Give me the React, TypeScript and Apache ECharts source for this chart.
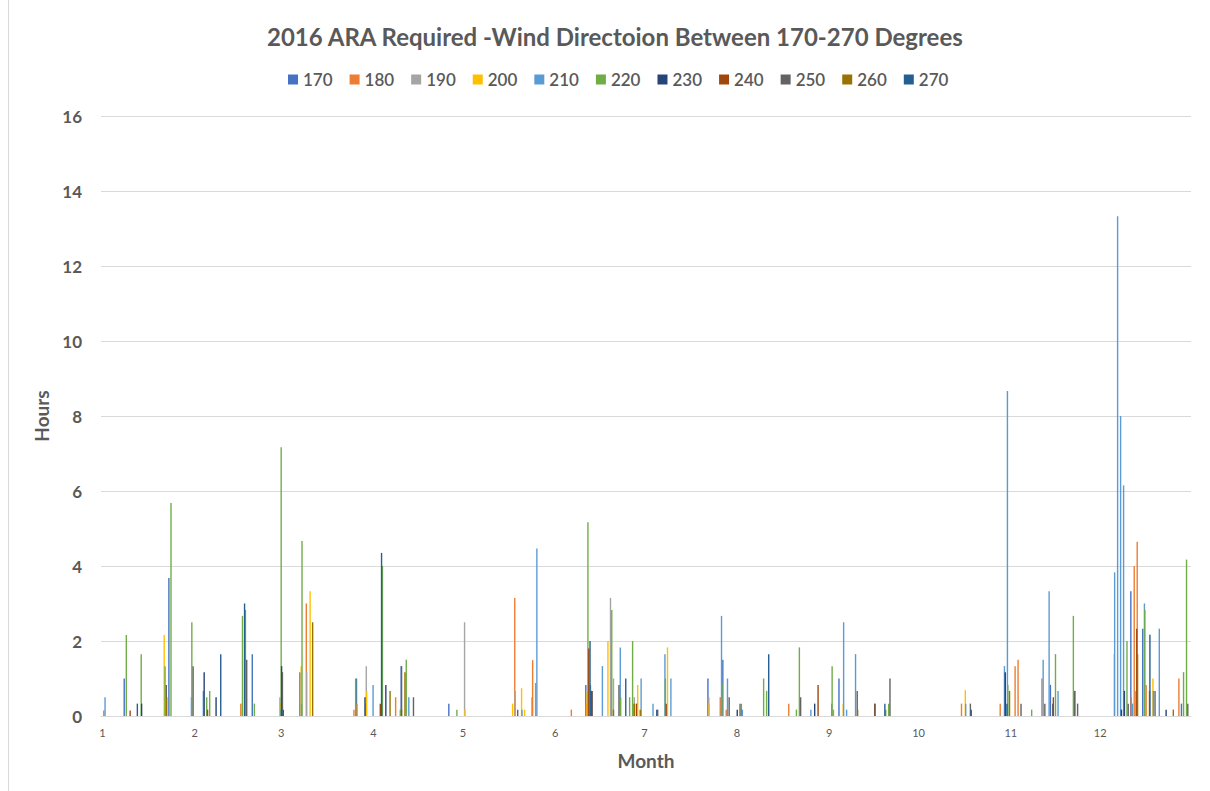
import React, { useEffect, useRef } from "react";
import * as echarts from "echarts";

const TITLE = "2016 ARA Required -Wind Directoion Between 170-270 Degrees";
const seriesNames = ["170", "180", "190", "200", "210", "220", "230", "240", "250", "260", "270"];
const seriesColors = ["#4472C4", "#ED7D31", "#A5A5A5", "#FFC000", "#5B9BD5", "#70AD47", "#264478", "#9E480E", "#636363", "#997300", "#255E91"];
const monthLengths = [31, 29, 31, 30, 31, 30, 31, 31, 30, 31, 30, 31];

// [day of year, hours]
const s170: [number, number][] = [[9, 1.0], [24, 3.68], [52, 1.65], [68, 1.17], [87, 1.0], [102, 1.33], [118, 0.33], [146, 0.5], [164, 0.83], [166, 0.67], [205, 1.0], [210, 1.5], [249, 1.0], [320, 0.83], [347, 3.33], [351, 2.33], [364, 0.33]];
const s180: [number, number][] = [[2, 0.15], [48, 0.33], [70, 3.0], [86, 0.17], [87, 0.33], [90, 0.33], [100, 0.5], [102, 0.17], [140, 3.15], [146, 1.49], [147, 0.88], [159, 0.17], [164, 0.33], [166, 0.67], [180, 0.33], [205, 0.5], [209, 0.5], [211, 0.17], [232, 0.33], [247, 0.17], [290, 0.33], [303, 0.33], [308, 1.33], [309, 1.5], [317, 1.0], [347, 0.5], [348, 4.0], [349, 4.65], [352, 0.83], [363, 1.0]];
const s190: [number, number][] = [[61, 0.5], [70, 1.17], [90, 1.33], [123, 2.5], [140, 0.67], [172, 3.15], [173, 1.0], [180, 0.5], [205, 0.5], [328, 0.67]];
const s200: [number, number][] = [[22, 2.16], [48, 0.33], [61, 0.33], [68, 1.33], [71, 3.33], [90, 0.67], [123, 0.17], [139, 0.33], [142, 0.74], [143, 0.17], [164, 0.67], [171, 2.0], [181, 0.83], [191, 1.83], [205, 0.33], [250, 0.33], [291, 0.69], [341, 1.65], [354, 1.0]];
const s210: [number, number][] = [[2, 0.5], [31, 0.5], [35, 0.67], [49, 1.0], [61, 0.17], [68, 0.33], [92, 0.83], [104, 0.5], [142, 0.17], [147, 4.47], [165, 0.83], [169, 1.33], [175, 1.83], [182, 1.0], [186, 0.33], [190, 1.65], [192, 1.0], [209, 2.67], [211, 1.0], [216, 0.17], [239, 0.17], [246, 0.33], [250, 2.5], [251, 0.17], [254, 1.65], [291, 0.33], [304, 1.33], [305, 8.67], [317, 1.5], [319, 3.33], [322, 0.67], [341, 3.83], [342, 13.33], [343, 8.0], [344, 6.15], [347, 0.33], [351, 3.0], [354, 0.67], [356, 2.33]];
const s220: [number, number][] = [[9, 2.16], [14, 1.65], [22, 1.33], [24, 5.68], [31, 2.5], [36, 0.5], [37, 0.67], [48, 2.67], [49, 2.83], [52, 0.33], [61, 7.17], [68, 4.67], [86, 1.0], [95, 4.0], [101, 0.17], [103, 1.5], [120, 0.17], [164, 5.17], [172, 2.83], [175, 0.5], [178, 0.5], [179, 2.0], [190, 1.0], [209, 0.87], [215, 0.33], [223, 1.0], [224, 0.67], [234, 0.17], [235, 1.83], [246, 1.33], [264, 0.17], [265, 0.33], [305, 0.83], [313, 0.17], [321, 1.65], [327, 2.67], [345, 2.0], [348, 0.67], [351, 2.83], [364, 1.17], [365, 4.17]];
const s230: [number, number][] = [[14, 0.33], [35, 1.17], [39, 0.5], [61, 1.33], [89, 0.5], [96, 0.83], [165, 0.67], [187, 0.17], [214, 0.17], [240, 0.33], [304, 1.17], [320, 0.33], [343, 0.17], [344, 0.67], [358, 0.17]];
const s240: [number, number][] = [[10, 0.15], [36, 0.17], [94, 0.33], [164, 1.8], [180, 0.33], [190, 0.33], [241, 0.83], [260, 0.33], [320, 0.5], [348, 2.33]];
const s250: [number, number][] = [[22, 0.83], [31, 1.33], [49, 1.5], [61, 1.17], [101, 1.33], [105, 0.5], [140, 0.17], [165, 0.67], [174, 0.83], [187, 0.17], [211, 0.5], [215, 0.33], [235, 0.5], [254, 0.67], [260, 0.33], [265, 1.0], [292, 0.33], [309, 0.33], [317, 0.33], [327, 0.67], [328, 0.33], [345, 0.33], [354, 0.67], [365, 0.33]];
const s260: [number, number][] = [[22, 0.5], [71, 2.5], [97, 0.67], [102, 1.17], [172, 0.17], [179, 0.33], [181, 0.17], [254, 0.17], [305, 0.67], [348, 1.65], [352, 0.67], [360, 0.17]];
const s270: [number, number][] = [[12, 0.33], [40, 1.65], [48, 3.0], [61, 0.17], [94, 4.35], [164, 2.0], [176, 1.0], [224, 1.65], [263, 0.33], [292, 0.17], [304, 0.33], [352, 2.17]];

const seriesPoints = [s170, s180, s190, s200, s210, s220, s230, s240, s250, s260, s270];

const FONT = "Lato, 'Open Sans', sans-serif";
const GRAY = "#595959";

export default function App() {
  const ref = useRef<HTMLDivElement>(null);
  useEffect(() => {
    if (!ref.current) return;
    const chart = echarts.init(ref.current, undefined, { renderer: "svg" });

    const categories: string[] = [];
    const monthStart = new Set<number>();
    const monthOfIndex: number[] = [];
    let idx = 0;
    monthLengths.forEach((len, m) => {
      for (let d = 1; d <= len; d++) {
        if (d === 1) monthStart.add(idx);
        categories.push(`2016-${m + 1}-${d}`);
        monthOfIndex.push(m + 1);
        idx++;
      }
    });
    const total = categories.length;

    const series = seriesPoints.map((pts, i) => {
      const data: number[] = new Array(total).fill(0);
      pts.forEach(([day, v]) => {
        data[day - 1] = v;
      });
      return {
        name: seriesNames[i],
        type: "bar" as const,
        data,
        barWidth: 1.4,
        barGap: "-70%",
        itemStyle: { color: seriesColors[i] },
      };
    });

    chart.setOption({
      animation: false,
      backgroundColor: "#ffffff",
      title: {
        text: TITLE,
        left: 262,
        top: 19,
        textStyle: { fontFamily: FONT, fontSize: 24, fontWeight: "bold", color: GRAY },
      },
      legend: {
        top: 66,
        left: 283,
        itemWidth: 10,
        itemHeight: 10,
        itemGap: 17,
        icon: "rect",
        textStyle: { fontFamily: FONT, fontSize: 17, fontWeight: 600, color: GRAY },
        data: seriesNames,
      },
      grid: { left: 101, right: 19, top: 116, bottom: 75, containLabel: false },
      xAxis: {
        type: "category",
        data: categories,
        name: "Month",
        nameLocation: "middle",
        nameGap: 35,
        nameTextStyle: { fontFamily: FONT, fontSize: 19, fontWeight: "bold", color: GRAY },
        axisLine: { lineStyle: { color: "#D9D9D9", width: 1 } },
        axisTick: { show: false },
        axisLabel: {
          interval: (i: number) => monthStart.has(i),
          formatter: (_v: string, i: number) => String(monthOfIndex[i]),
          fontFamily: FONT,
          fontSize: 11,
          color: GRAY,
          margin: 11,
        },
      },
      yAxis: {
        type: "value",
        min: 0,
        max: 16,
        interval: 2,
        name: "Hours",
        nameLocation: "middle",
        nameGap: 49,
        nameTextStyle: { fontFamily: FONT, fontSize: 19, fontWeight: "bold", color: GRAY },
        axisLine: { show: false },
        axisTick: { show: false },
        splitLine: { lineStyle: { color: "#D9D9D9", width: 1 } },
        axisLabel: { fontFamily: FONT, fontSize: 17, fontWeight: "bold", color: GRAY, margin: 19 },
      },
      graphic: [
        {
          type: "line",
          shape: { x1: 8.5, y1: 0, x2: 8.5, y2: 791 },
          style: { stroke: "#D9D9D9", lineWidth: 1 },
          silent: true,
        },
      ],
      series,
    });

    return () => chart.dispose();
  }, []);

  return (
    <div
      ref={ref}
      style={{ position: "absolute", left: 0, top: 0, width: 1210, height: 791 }}
    />
  );
}
